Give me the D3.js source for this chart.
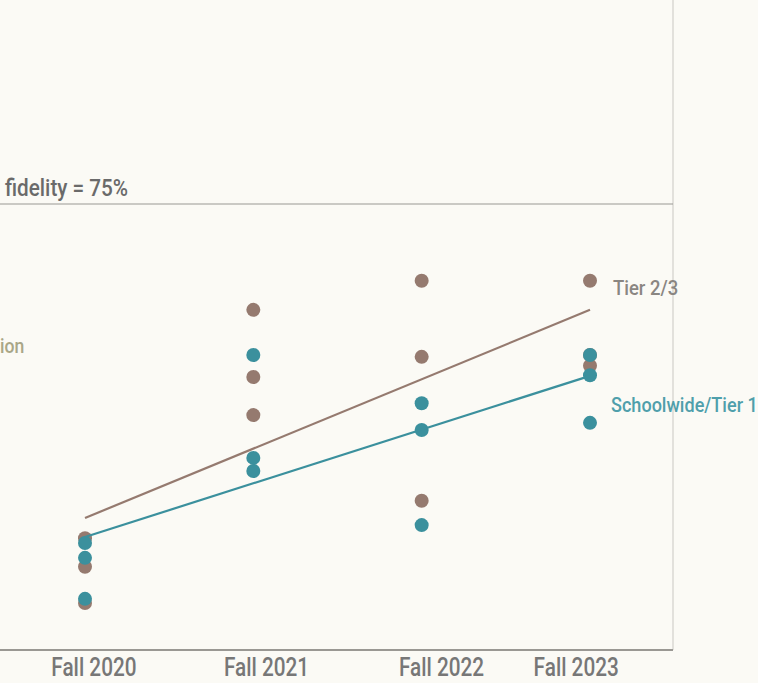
<!DOCTYPE html>
<html>
<head>
<meta charset="utf-8">
<script src="https://cdn.jsdelivr.net/npm/d3@7"></script>
<style>
  html, body { margin: 0; padding: 0; background: #fbfaf5; }
  svg { display: block; }
  text { font-family: "Roboto", "Liberation Sans", sans-serif; }
</style>
</head>
<body>
<svg id="chart" width="758" height="683"></svg>
<script>
// ---- data ----
const years = [2020, 2021, 2022, 2023];
const tickLabels = ["Fall 2020", "Fall 2021", "Fall 2022", "Fall 2023"];
const tickPositions = [2020.05, 2021.075, 2022.115, 2022.915];
const tier23Values = [
  [18.8, 14.0, 7.9],
  [57.2, 45.9, 39.5],
  [62.1, 49.3, 25.1],
  [62.1, 49.6, 47.8]
];
const schoolwideValues = [
  [18.0, 15.5, 8.6],
  [49.6, 32.3, 30.1],
  [41.5, 37.0, 21.0],
  [49.6, 46.2, 38.2]
];
const tier23Trend = [22.2, 57.2];      // fitted values at first / last year
const schoolwideTrend = [19.0, 46.1];
const criterionValue = 75;
const criterionLabel = "fidelity = 75%";
const leftLabel = "ion";
const seriesNames = ["Tier 2/3", "Schoolwide/Tier 1"];

// ---- layout ----
const svg = d3.select("#chart");
const x = d3.scaleLinear().domain([2020, 2023]).range([85, 590]);
const y = d3.scaleLinear().domain([0, 75]).range([650, 204]);
const plotRight = 673, plotBottom = 650;

const cTier = "#957a6f", cSchool = "#3b909d";

function label(px, py, txt, size, color, sx, weight) {
  return svg.append("text")
    .attr("transform", `translate(${px},${py}) scale(${sx},1)`)
    .attr("font-size", size).attr("font-weight", weight || 400)
    .attr("fill", color).text(txt);
}

// frame
svg.append("line").attr("x1", plotRight).attr("x2", plotRight)
  .attr("y1", 0).attr("y2", plotBottom)
  .attr("stroke", "#c9c7c2").attr("stroke-width", 1);

// criterion line
svg.append("line").attr("x1", 0).attr("x2", plotRight)
  .attr("y1", y(criterionValue)).attr("y2", y(criterionValue))
  .attr("stroke", "#9a9893").attr("stroke-width", 1.2);
label(5, y(criterionValue) - 8, criterionLabel, 23, "#6a6a6a", 0.9, 500);

// left cut label
label(0, 353, leftLabel, 20, "#a9a687", 0.88, 500);

// x axis
const xAxis = d3.axisBottom(x).tickValues(tickPositions)
  .tickFormat((d, i) => tickLabels[i]).tickSize(0).tickPadding(8);
const gx = svg.append("g").attr("transform", `translate(0,${plotBottom})`).call(xAxis);
gx.select(".domain").attr("d", `M0,0H${plotRight}`).attr("stroke", "#9a9893").attr("stroke-width", 2);
gx.selectAll("text")
  .attr("font-size", 25).attr("font-weight", 500).attr("fill", "#777")
  .attr("font-family", "Roboto").attr("y", 8)
  .attr("transform", "scale(0.83,1)");

// points
function flat(vals) {
  const out = [];
  vals.forEach((arr, i) => arr.forEach(v => out.push({ year: years[i], v })));
  return out;
}
svg.append("g").selectAll("circle").data(flat(tier23Values)).join("circle")
  .attr("cx", d => x(d.year)).attr("cy", d => y(d.v)).attr("r", 7).attr("fill", cTier);
svg.append("g").selectAll("circle").data(flat(schoolwideValues)).join("circle")
  .attr("cx", d => x(d.year)).attr("cy", d => y(d.v)).attr("r", 7).attr("fill", cSchool);

// trend lines
const line = d3.line().x(d => x(d[0])).y(d => y(d[1]));
svg.append("path").datum([[years[0], tier23Trend[0]], [years[3], tier23Trend[1]]])
  .attr("d", line).attr("stroke", cTier).attr("stroke-width", 2.2).attr("fill", "none");
svg.append("path").datum([[years[0], schoolwideTrend[0]], [years[3], schoolwideTrend[1]]])
  .attr("d", line).attr("stroke", cSchool).attr("stroke-width", 2.2).attr("fill", "none");

// series labels
label(613, 295, seriesNames[0], 21, "#8a8682", 0.88, 500);
label(611, 412, seriesNames[1], 21, "#4f9fab", 0.86, 500);
</script>
</body>
</html>
